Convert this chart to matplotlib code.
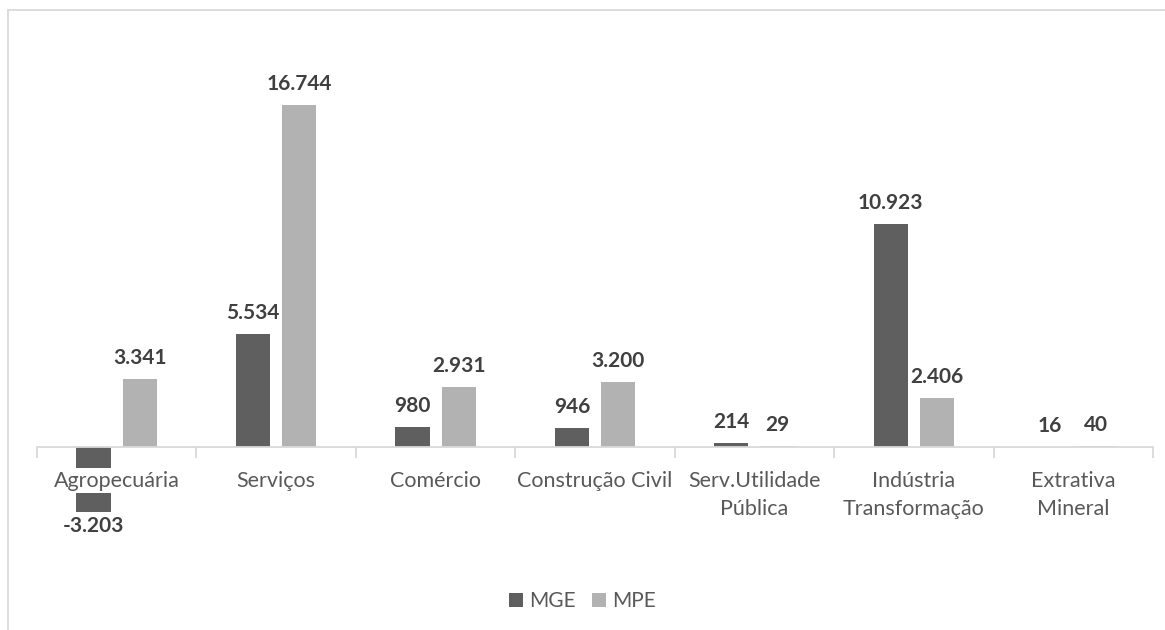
import matplotlib.pyplot as plt
import numpy as np
from matplotlib.patches import Rectangle

# saldo de empregos por setor
setores = ["Agropecuária", "Serviços", "Comércio", "Construção Civil",
           "Serv.Utilidade\nPública", "Indústria\nTransformação", "Extrativa\nMineral"]
mge = [-3203, 5534, 980, 946, 214, 10923, 16]
mpe = [3341, 16744, 2931, 3200, 29, 2406, 40]

cor_mge = "#5f5f5f"
cor_mpe = "#b2b2b2"
cor_texto = "#595959"
cor_rotulo = "#404040"

plt.rcParams["font.family"] = ["Lato", "DejaVu Sans"]

fig = plt.figure(figsize=(11.65, 6.3), dpi=100)
ax = fig.add_axes([37 / 1165, (630 - 514.4) / 630, 1116 / 1165, (514.4 - 79.3) / 630])

x = np.arange(len(setores))
larg = 0.215
desloc = 0.145

b1 = ax.bar(x - desloc, mge, larg, color=cor_mge, zorder=0.5, label="MGE")
b2 = ax.bar(x + desloc, mpe, larg, color=cor_mpe, zorder=0.5, label="MPE")

def fmt(v):
    return f"{v:,}".replace(",", ".")

for barras, vals in ((b1, mge), (b2, mpe)):
    for b, v in zip(barras, vals):
        cx = b.get_x() + b.get_width() / 2
        if v >= 0:
            ax.annotate(fmt(v), (cx, v), xytext=(0, 11), textcoords="offset pixels",
                        ha="center", va="bottom", fontsize=15, fontweight="bold",
                        color=cor_rotulo)
        else:
            ax.annotate(fmt(v), (cx, v), xytext=(0, -4), textcoords="offset pixels",
                        ha="center", va="top", fontsize=15, fontweight="bold",
                        color=cor_rotulo)

ax.set_xlim(-0.5, len(setores) - 0.5)
ax.set_ylim(-3300, 18000)

for s in ("top", "right", "left"):
    ax.spines[s].set_visible(False)
ax.spines["bottom"].set_position(("data", 0))
ax.spines["bottom"].set_color("#d9d9d9")
ax.spines["bottom"].set_linewidth(1.3)
ax.set_yticks([])
ax.set_axisbelow(False)

ax.set_xticks(x)
ax.set_xticklabels(setores, fontsize=15.5, color=cor_texto, linespacing=1.5)
ax.tick_params(axis="x", which="major", length=0, pad=17)
ax.set_xticks(np.arange(-0.5, len(setores)), minor=True)
ax.tick_params(axis="x", which="minor", length=8, width=1.3, color="#d9d9d9")
for lbl in ax.get_xticklabels():
    lbl.set_bbox(dict(facecolor="white", edgecolor="none", pad=2))

ax.legend(loc="center", bbox_to_anchor=(0.5, (630 - 601) / 630), bbox_transform=fig.transFigure,
          ncol=2, frameon=False, fontsize=15, handlelength=0.65, handleheight=0.65,
          handletextpad=0.3, columnspacing=0.8, labelcolor=cor_texto)

# moldura do gráfico
fig.patches.append(Rectangle((8 / 1165, -0.1), 1.2, (620 / 630) + 0.1, transform=fig.transFigure,
                             fill=False, edgecolor="#d9d9d9", linewidth=1.3))

fig.savefig("out.png", dpi=100, facecolor="white")
